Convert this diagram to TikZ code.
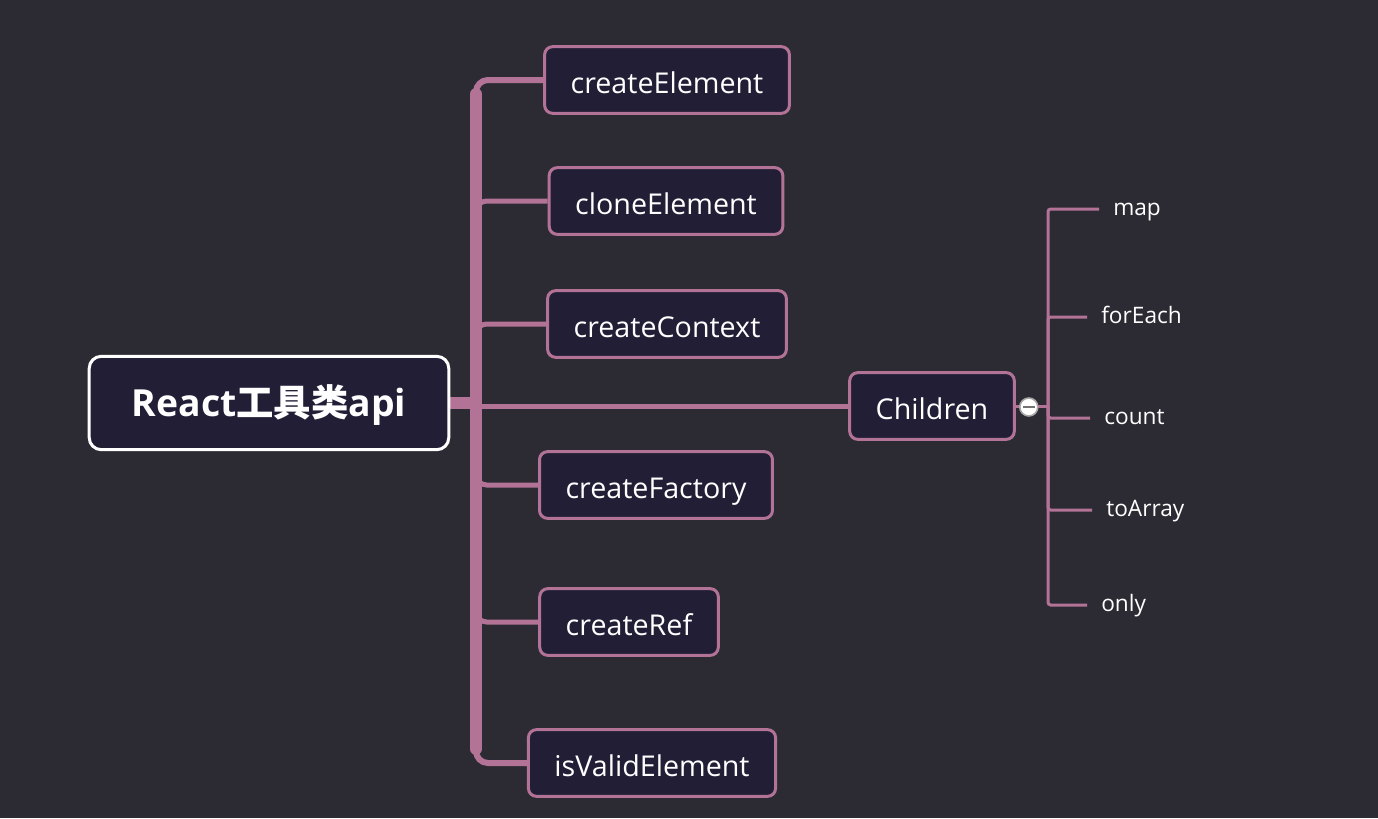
\documentclass[tikz,border=0pt]{standalone}
\usepackage{fontspec}
\setmainfont{Open Sans}
\newfontfamily\cjk{Noto Sans CJK SC}
\usetikzlibrary{calc,backgrounds}
\definecolor{bgcol}{RGB}{44,43,51}
\definecolor{boxfill}{RGB}{33,30,54}
\definecolor{pinkline}{RGB}{179,115,150}
\tikzstyle{rootbox} = [rectangle, draw=white, fill=boxfill, line width=2.25pt, rounded corners=9pt, text=white, font=\fontsize{28}{32}\selectfont\bfseries, text height=20pt, text depth=0pt, inner xsep=32pt, minimum height=70pt]
\tikzstyle{apibox} = [rectangle, draw=pinkline, fill=boxfill, line width=2.25pt, rounded corners=6pt, text=white, font=\fontsize{21.5}{24}\selectfont, text height=20pt, text depth=0pt, inner xsep=19.5pt, minimum height=50pt]
\tikzstyle{leaf} = [anchor=west, text=white, font=\fontsize{17}{20}\selectfont, text height=9pt, text depth=0pt, inner xsep=10.5pt, inner ysep=0pt]
\tikzstyle{trunk} = [draw=pinkline, line width=9pt]
\tikzstyle{corner} = [draw=pinkline, line width=4.5pt, rounded corners=9pt]
\tikzstyle{branch} = [draw=pinkline, line width=3.75pt, rounded corners=8pt]
\tikzstyle{twig} = [draw=pinkline, line width=2.25pt, rounded corners=2pt]
\tikzstyle{fold} = [circle, draw=gray!70, fill=white, line width=1.2pt, minimum size=13.5pt, inner sep=0pt]
\begin{document}
\begin{tikzpicture}[x=0.75pt, y=-0.75pt]
    \useasboundingbox (0,0) rectangle (1378,818);
    \node (root) [rootbox] at (269,403) {React{\cjk 工具类}api};
    \node (createElement) [apibox] at (667,80) {createElement};
    \node (cloneElement) [apibox] at (666,201) {cloneElement};
    \node (createContext) [apibox] at (667,324) {createContext};
    \node (createFactory) [apibox] at (656,485) {createFactory};
    \node (createRef) [apibox] at (629,622) {createRef};
    \node (isValidElement) [apibox] at (652,763) {isValidElement};
    \node (Children) [apibox] at (932,406) {Children};
    \coordinate (hub) at (476,406);
    \coordinate (top) at (hub |- createElement.west);
    \coordinate (bottom) at (hub |- isValidElement.west);
    \coordinate (sub) at (1048,406);
    \node (map) [leaf] at (1099,209) {map};
    \node (forEach) [leaf] at (1087,317) {forEach};
    \node (count) [leaf] at (1090,418) {count};
    \node (toArray) [leaf] at (1092,510) {toArray};
    \node (only) [leaf] at (1087,605) {only};
    \begin{scope}[on background layer]
        \fill[bgcol] (0,0) rectangle (1378,818);
        \draw [trunk] (root.east) -- (root.east -| hub);
        \draw [trunk, line cap=round] ($(top)+(0,14)$) -- ($(bottom)+(0,-14)$);
        \draw [corner] (createElement.west) -| ($(top)+(0,18)$);
        \draw [corner] (isValidElement.west) -| ($(bottom)+(0,-18)$);
        \foreach \api in {cloneElement, createContext, createFactory, createRef}
            \draw [branch] (hub) |- (\api.west);
        \draw [branch] (hub) -- (Children.west);
        \draw [twig] (Children.east) -- (sub);
        \foreach \leafname in {map, forEach, count, toArray, only}
            \draw [twig] (sub) |- (\leafname.west);
    \end{scope}
    \node (toggle) [fold] at ($(Children.east)+(13,1)$) {};
    \draw [gray!90!black, line width=1.5pt] ($(toggle.center)+(-6,0)$) -- ($(toggle.center)+(6,0)$);
\end{tikzpicture}
\end{document}
